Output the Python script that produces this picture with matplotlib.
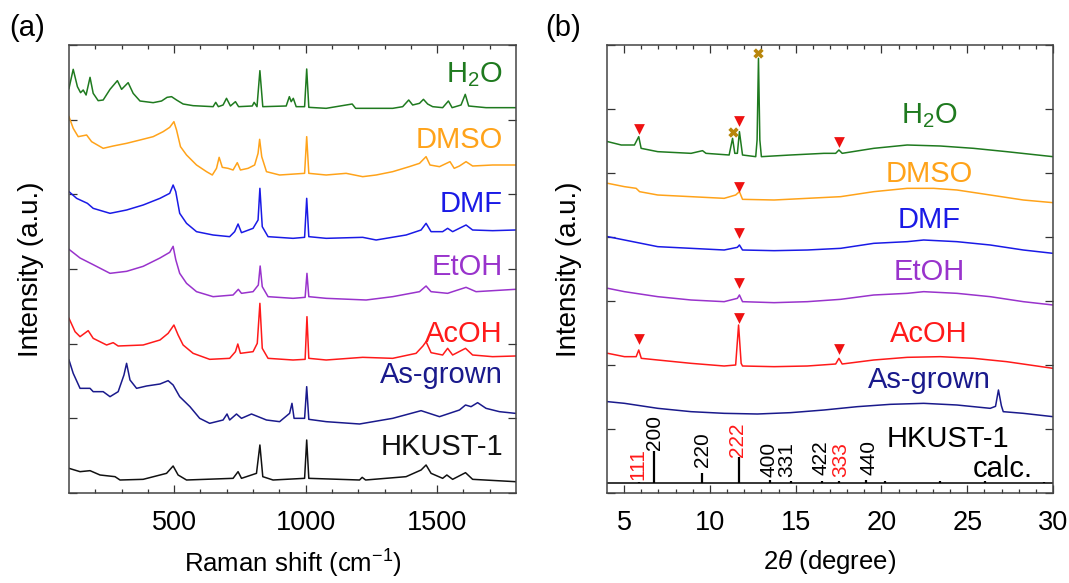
import matplotlib
matplotlib.use("Agg")
import matplotlib.pyplot as plt
import numpy as np

plt.rcParams['font.family'] = ['Liberation Sans', 'DejaVu Sans']
plt.rcParams['mathtext.fontset'] = 'custom'
plt.rcParams['mathtext.rm'] = 'Liberation Sans'
plt.rcParams['mathtext.it'] = 'Liberation Sans:italic'
plt.rcParams['mathtext.default'] = 'regular'

# ---------------- Raman data (cm-1, a.u.) ----------------
raman_h2o_x = [100, 116, 132, 144, 154, 165, 180, 192, 211, 230, 256, 284, 300, 325, 344, 370, 420, 452, 473, 490,
               509, 534, 572, 648, 658, 668, 686, 699, 714, 733, 745, 797, 804, 815, 826, 837, 926, 938, 945, 953,
               964, 996, 1004, 1012, 1078, 1177, 1190, 1331, 1369, 1392, 1407, 1433, 1448, 1464, 1483, 1521, 1543,
               1557, 1591, 1607, 1620, 1686, 1797]
raman_h2o_y = [1214, 1271, 1219, 1201, 1209, 1194, 1247, 1199, 1177, 1179, 1211, 1237, 1211, 1231, 1199, 1176, 1171,
               1176, 1187, 1189, 1179, 1167, 1162, 1159, 1172, 1159, 1164, 1184, 1161, 1174, 1159, 1161, 1172, 1159,
               1267, 1159, 1161, 1189, 1174, 1184, 1159, 1159, 1272, 1157, 1154, 1167, 1154, 1154, 1159, 1179, 1164,
               1169, 1181, 1167, 1159, 1156, 1176, 1156, 1164, 1196, 1161, 1156, 1156]

raman_dmso_x = [100, 116, 135, 167, 186, 230, 268, 319, 370, 420, 458, 483, 499, 509, 524, 547, 585, 623, 645, 661,
                671, 683, 705, 724, 740, 752, 781, 806, 819, 825, 833, 851, 901, 996, 1004, 1012, 1078, 1154, 1217,
                1268, 1331, 1394, 1433, 1458, 1473, 1509, 1549, 1565, 1585, 1610, 1635, 1711, 1797]
raman_dmso_y = [1129, 1094, 1069, 1074, 1054, 1034, 1041, 1049, 1059, 1069, 1084, 1097, 1114, 1089, 1039, 1014, 984,
                964, 954, 974, 1007, 977, 974, 969, 991, 969, 974, 984, 1019, 1061, 1009, 964, 954, 959, 1069, 959,
                954, 959, 949, 954, 964, 979, 989, 1009, 984, 979, 994, 974, 981, 994, 981, 984, 984]

raman_dmf_x = [100, 129, 170, 192, 256, 319, 382, 446, 483, 496, 506, 521, 547, 585, 648, 711, 730, 743, 756, 800,
               819, 826, 835, 857, 952, 996, 1004, 1012, 1078, 1217, 1268, 1382, 1439, 1458, 1477, 1521, 1540, 1559,
               1610, 1635, 1711, 1797]
raman_dmf_y = [904, 884, 869, 854, 839, 849, 864, 884, 899, 924, 904, 839, 809, 784, 774, 769, 784, 807, 781, 794,
               819, 914, 799, 769, 764, 767, 884, 769, 764, 767, 759, 774, 789, 809, 784, 784, 794, 784, 804, 789,
               787, 789]

raman_etoh_x = [100, 142, 192, 256, 319, 382, 446, 483, 496, 506, 521, 547, 585, 648, 724, 744, 756, 800, 820, 827,
                835, 857, 952, 998, 1005, 1012, 1078, 1230, 1331, 1433, 1458, 1477, 1540, 1559, 1610, 1648, 1797]
raman_etoh_y = [731, 705, 685, 659, 665, 680, 705, 722, 740, 700, 659, 629, 604, 589, 594, 611, 599, 604, 624, 681,
                619, 589, 584, 587, 659, 589, 584, 579, 589, 604, 621, 604, 599, 604, 617, 604, 611]

raman_acoh_x = [100, 123, 142, 173, 192, 243, 268, 287, 382, 446, 477, 499, 515, 534, 572, 635, 711, 733, 742, 752,
                800, 816, 826, 835, 857, 952, 998, 1005, 1012, 1078, 1217, 1331, 1420, 1446, 1458, 1477, 1521, 1540,
                1559, 1608, 1635, 1711, 1797]
raman_acoh_y = [524, 484, 469, 487, 464, 444, 451, 441, 444, 459, 479, 504, 474, 444, 419, 401, 404, 424, 447, 419,
                424, 449, 569, 434, 404, 399, 401, 529, 404, 399, 407, 404, 419, 441, 454, 421, 414, 434, 414, 434,
                414, 409, 411]

raman_asg_x = [100, 116, 142, 180, 192, 230, 256, 287, 309, 319, 332, 357, 395, 446, 477, 496, 521, 560, 597, 635,
               686, 701, 711, 737, 756, 794, 851, 901, 939, 948, 956, 996, 1004, 1012, 1078, 1205, 1331, 1439, 1509,
               1585, 1608, 1629, 1654, 1686, 1737, 1797]
raman_asg_y = [399, 359, 314, 314, 304, 304, 289, 304, 354, 389, 339, 314, 321, 327, 337, 324, 289, 259, 224, 209,
               219, 237, 219, 237, 224, 237, 219, 214, 239, 269, 224, 224, 319, 221, 214, 207, 224, 247, 229, 249,
               264, 259, 271, 254, 244, 239]

raman_hk_x = [100, 142, 180, 218, 275, 294, 382, 471, 496, 515, 547, 724, 743, 756, 813, 826, 837, 876, 996, 1004,
              1012, 1205, 1215, 1228, 1382, 1439, 1458, 1477, 1521, 1537, 1559, 1608, 1635, 1797]
raman_hk_y = [74, 64, 67, 54, 49, 39, 41, 59, 81, 54, 39, 44, 64, 44, 59, 144, 49, 39, 44, 159, 44, 39, 47, 39, 49,
              69, 84, 59, 44, 54, 41, 61, 41, 34]

# ---------------- XRD data (2theta, a.u.) ----------------
xrd_h2o_x = [4.05, 4.83, 5.6, 5.85, 5.99, 6.96, 8.9, 9.57, 9.77, 11.12, 11.32, 11.45, 11.6, 11.72, 11.9, 12.67,
             12.75, 12.83, 12.91, 13.0, 14.7, 16.65, 17.33, 17.52, 17.71, 19.55, 21.5, 23.43, 25.37, 27.3, 30.0]
xrd_h2o_y = [1054, 1044, 1044, 1069, 1034, 1024, 1019, 1027, 1019, 1014, 1064, 1019, 1019, 1084, 1014, 1009,
             1059, 1304, 1059, 1009, 1014, 1019, 1019, 1029, 1019, 1034, 1044, 1041, 1034, 1024, 1009]

xrd_dmso_x = [4.05, 5.02, 5.7, 5.9, 6.96, 8.9, 10.83, 11.5, 11.72, 11.9, 13.74, 15.68, 17.62, 19.55, 21.5, 23.04,
              24.4, 26.34, 28.27, 30.0]
xrd_dmso_y = [929, 919, 914, 904, 894, 889, 884, 894, 904, 881, 879, 884, 889, 904, 914, 914, 909, 894, 879, 871]

xrd_dmf_x = [4.05, 5.02, 6.96, 8.9, 10.83, 11.6, 11.72, 11.9, 13.74, 15.68, 17.62, 19.55, 21.5, 22.46, 24.4, 26.34,
             28.27, 30.0]
xrd_dmf_y = [769, 759, 739, 734, 729, 737, 744, 729, 727, 729, 734, 749, 754, 759, 754, 744, 729, 719]

xrd_etoh_x = [4.05, 5.02, 6.96, 8.9, 10.83, 11.6, 11.72, 11.9, 13.74, 15.68, 17.62, 19.55, 21.5, 22.46, 24.4, 26.34,
              28.27, 30.0]
xrd_etoh_y = [614, 604, 589, 579, 574, 584, 594, 574, 571, 574, 581, 594, 599, 604, 599, 589, 574, 564]

xrd_acoh_x = [4.05, 5.02, 5.7, 5.85, 6.0, 6.96, 8.9, 10.83, 11.5, 11.67, 11.82, 11.9, 13.74, 15.68, 17.33, 17.52,
              17.71, 19.55, 21.5, 23.43, 25.37, 27.3, 30.0]
xrd_acoh_y = [419, 409, 409, 429, 404, 399, 389, 381, 384, 504, 389, 381, 379, 381, 387, 404, 387, 399, 407, 409,
              404, 394, 374]

xrd_asg_x = [4.05, 5.02, 6.96, 8.9, 10.83, 12.77, 14.7, 16.65, 18.59, 20.52, 22.46, 24.4, 26.34, 26.65, 26.82,
             26.99, 27.1, 28.27, 30.0]
xrd_asg_y = [274, 269, 254, 244, 239, 237, 241, 249, 259, 266, 269, 264, 254, 260, 309, 262, 244, 239, 229]

# calculated HKUST-1 pattern (stick positions and heights)
calc_base = 31
calc_pos = [5.84, 6.74, 9.53, 11.69, 13.5, 14.7, 16.55, 17.55, 19.1, 20.2, 23.4, 26.05, 29.45]
calc_h = [3, 96, 28, 78, 8, 5, 4, 5, 8, 4, 4, 4, 3]
hkl_labels = ['111', '200', '220', '222', '400', '331', '422', '333', '440']
hkl_x = [5.8, 6.76, 9.57, 11.6, 13.45, 14.5, 16.45, 17.6, 19.26]
hkl_red = [True, False, False, True, False, False, False, True, False]

# marker positions
tri_x = [5.85, 11.72, 17.52, 11.72, 11.72, 11.72, 5.85, 11.67, 17.52]
tri_y = [1091, 1116, 1054, 919, 781, 631, 461, 526, 431]
cross_x = [11.32, 12.83]
cross_y = [1084, 1319]

names = ['H$_2$O', 'DMSO', 'DMF', 'EtOH', 'AcOH', 'As-grown', 'HKUST-1']
colors = ['#1f7a1f', '#ffa31a', '#1a1ae6', '#9933cc', '#ff1a1a', '#1a1a8c', '#111111']

W, H = 1069, 583
fig = plt.figure(figsize=(W / 100, H / 100), dpi=100)
axL = fig.add_axes([69 / W, 1 - 493 / H, 447 / W, 448 / H])
axR = fig.add_axes([607 / W, 1 - 493 / H, 446 / W, 448 / H])

raman = [(raman_h2o_x, raman_h2o_y), (raman_dmso_x, raman_dmso_y), (raman_dmf_x, raman_dmf_y),
         (raman_etoh_x, raman_etoh_y), (raman_acoh_x, raman_acoh_y), (raman_asg_x, raman_asg_y),
         (raman_hk_x, raman_hk_y)]
for (x, y), c in zip(raman, colors):
    axL.plot(x, y, color=c, lw=1.1)

xrd = [(xrd_h2o_x, xrd_h2o_y), (xrd_dmso_x, xrd_dmso_y), (xrd_dmf_x, xrd_dmf_y),
       (xrd_etoh_x, xrd_etoh_y), (xrd_acoh_x, xrd_acoh_y), (xrd_asg_x, xrd_asg_y)]
for (x, y), c in zip(xrd, colors):
    axR.plot(x, y, color=c, lw=1.1)

axR.plot([4, 30], [calc_base, calc_base], color='black', lw=1.1)
axR.vlines(calc_pos, calc_base, np.array(calc_h) + calc_base, color='black', lw=1.6)
axR.scatter(tri_x, tri_y, marker='v', s=60, color='#ee1111', zorder=5, linewidths=0)
axR.scatter(cross_x, cross_y, marker='X', s=55, color='#b8860b', zorder=5, linewidths=0)

hkl_bottom = [39, 129, 79, 109, 49, 49, 54, 49, 54]
for lab, x, yb, red in zip(hkl_labels, hkl_x, hkl_bottom, hkl_red):
    axR.text(x, yb, lab, rotation=90, ha='center', va='bottom', fontsize=15,
             color='#ff1a1a' if red else 'black')

# axes styling
axL.set_xlim(100, 1800)
axL.set_ylim(0, 1344)
axL.set_xticks([500, 1000, 1500])
axL.set_xticks(np.arange(200, 1800, 100), minor=True)
axL.set_yticks(np.arange(0, 1345, 224))
axR.set_xlim(4, 30)
axR.set_ylim(0, 1344)
axR.set_xticks([5, 10, 15, 20, 25, 30])
axR.set_xticks(np.arange(5, 30, 1), minor=True)
axR.set_yticks(np.arange(0, 1345, 192))

for ax in (axL, axR):
    ax.tick_params(which='both', direction='in', top=True, right=True, labelleft=False,
                   labelsize=19.5, pad=12, color='#333333', width=0.9)
    ax.tick_params(which='major', length=5.5)
    ax.tick_params(which='minor', length=3)
    ax.tick_params(axis='y', which='minor', left=False, right=False)
    for s in ax.spines.values():
        s.set_color('#444444')
        s.set_linewidth(1.1)
    ax.set_ylabel('Intensity (a.u.)', fontsize=20, labelpad=18)

axL.set_xlabel('Raman shift (cm$^{-1}$)', fontsize=18.5, labelpad=9)
axR.set_xlabel(r'2$\it{\theta}$ (degree)', fontsize=18.5, labelpad=9)

# series labels
left_y = [0.916, 0.769, 0.628, 0.487, 0.338, 0.245, 0.085]
for name, c, y in zip(names, colors, left_y):
    axL.text(0.971, y, name, transform=axL.transAxes, ha='right', va='baseline', fontsize=21, color=c)

right_y = [0.825, 0.695, 0.591, 0.475, 0.338, 0.234]
for name, c, y in zip(names[:6], colors[:6], right_y):
    axR.text(0.722, y, name, transform=axR.transAxes, ha='center', va='baseline', fontsize=21, color=c)
axR.text(0.765, 0.103, 'HKUST-1', transform=axR.transAxes, ha='center', va='baseline', fontsize=21, color='black')
axR.text(0.955, 0.036, 'calc.', transform=axR.transAxes, ha='right', va='baseline', fontsize=21, color='black')

fig.text(27 / W, 1 - 28 / H, '(a)', ha='center', va='center', fontsize=21)
fig.text(563 / W, 1 - 28 / H, '(b)', ha='center', va='center', fontsize=21)

fig.savefig('out.png', dpi=100)
